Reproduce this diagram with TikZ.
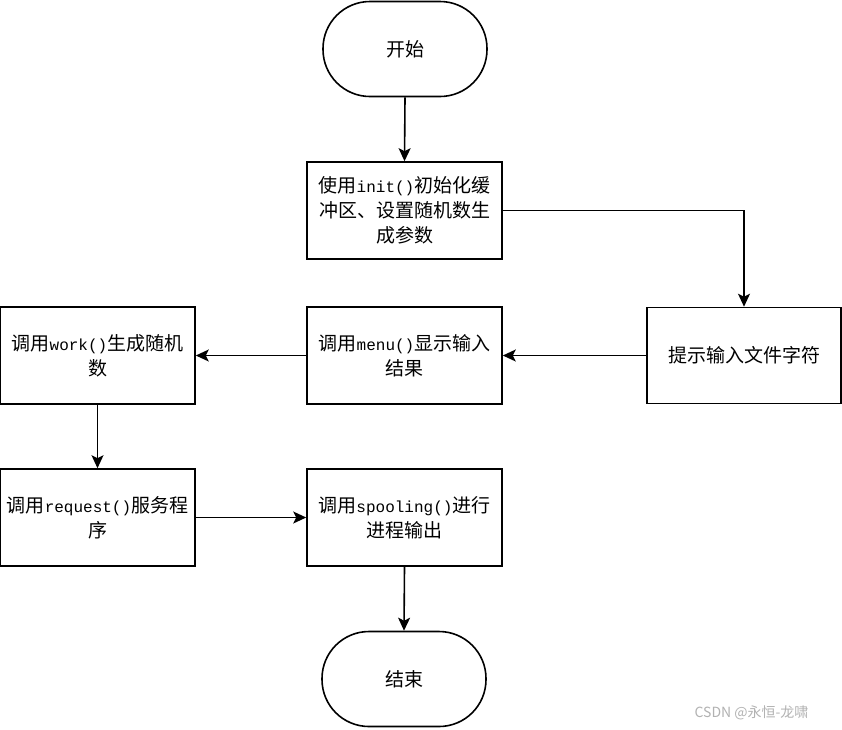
\documentclass[tikz,border=0pt]{standalone}
\usepackage{fontspec}
\setmainfont{Noto Sans CJK SC}
\newfontfamily\codefont{Liberation Mono}
\usetikzlibrary{arrows.meta}
\tikzset{
  every picture/.style={x=1pt,y=-1pt},
  boxnode/.style={draw=black, line width=1.6pt, minimum width=195pt, minimum height=97pt,
    align=center, inner sep=2pt, font=\fontsize{19}{25}\selectfont},
  termnode/.style={draw=black, line width=1.6pt, rounded corners=47pt, minimum width=164pt,
    minimum height=95pt, align=center, font=\fontsize{19}{24}\selectfont},
  flow/.style={draw=black, line width=1.6pt, -{Stealth[length=13pt,width=12pt,inset=3pt]}},
}
\newcommand{\cd}[1]{{\codefont\fontsize{16}{25}\selectfont #1}}
\begin{document}
\begin{tikzpicture}
\useasboundingbox (0,0) rectangle (842,729);
\fill[white] (0,0) rectangle (842,729);
\node[termnode] (start) at (405,49) {开始};
\node[boxnode] (b1) at (404.5,210.5) {使用\cd{init()}初始化缓\\冲区、设置随机数生\\成参数};
\node[boxnode, minimum width=194pt, minimum height=96pt] (b2) at (744,355.5) {提示输入文件字符};
\node[boxnode] (b3) at (404.5,355.5) {调用\cd{menu()}显示输入\\结果};
\node[boxnode] (b4) at (97.5,355.5) {调用\cd{work()}生成随机\\数};
\node[boxnode] (b5) at (97.5,517.5) {调用\cd{request()}服务程\\序};
\node[boxnode] (b6) at (404.5,517.5) {调用\cd{spooling()}进行\\进程输出};
\node[termnode] (end) at (404,679) {结束};
\node[text=black!30, font=\fontsize{14}{16}\selectfont, anchor=east] (wm) at (812,713) {CSDN @永恒-龙啸};
\draw[flow] (start.south) -- (b1.north);
\draw[flow] (b1.east) -| (b2.north);
\draw[flow] (b2.west) -- (b3.east);
\draw[flow] (b3.west) -- (b4.east);
\draw[flow] (b4.south) -- (b5.north);
\draw[flow] (b5.east) -- (b6.west);
\draw[flow] (b6.south) -- (end.north);
\end{tikzpicture}
\end{document}
